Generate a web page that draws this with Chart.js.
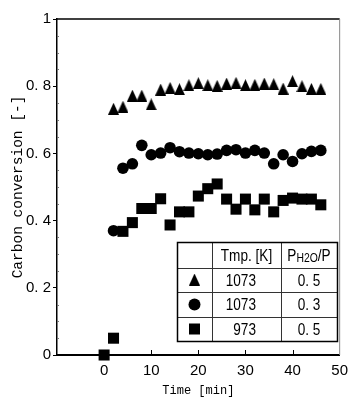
<!DOCTYPE html>
<html>
<head>
<meta charset="utf-8">
<script src="https://cdn.jsdelivr.net/npm/chart.js@4.4.1/dist/chart.umd.min.js"></script>
<style>
  html, body { margin: 0; padding: 0; background: #fff; }
  canvas { display: block; }
</style>
</head>
<body>
<canvas id="chart" width="355" height="401"></canvas>
<script>
// time [min] for the 1073 K runs, and for the 973 K run (starts at 0)
const times = [2, 4, 6, 8, 10, 12, 14, 16, 18, 20, 22, 24, 26, 28, 30, 32, 34, 36, 38, 40, 42, 44, 46];
const squareTimes = [0, 2, 4, 6, 8, 10, 12, 14, 16, 18, 20, 22, 24, 26, 28, 30, 32, 34, 36, 38, 40, 42, 44, 46];

// carbon conversion [-]
const triangleValues = [0.733, 0.739, 0.772, 0.772, 0.746, 0.790, 0.795, 0.791, 0.803, 0.809, 0.803,
  0.801, 0.808, 0.810, 0.803, 0.804, 0.808, 0.806, 0.793, 0.815, 0.800, 0.792, 0.792];
const circleValues = [0.370, 0.556, 0.569, 0.624, 0.596, 0.601, 0.617, 0.605, 0.601, 0.599, 0.596,
  0.598, 0.609, 0.611, 0.601, 0.609, 0.601, 0.569, 0.596, 0.576, 0.599, 0.606, 0.609];
const squareValues = [0.0, 0.05, 0.368, 0.394, 0.436, 0.436, 0.465, 0.387, 0.426, 0.426, 0.473, 0.495,
  0.509, 0.464, 0.434, 0.464, 0.432, 0.464, 0.426, 0.460, 0.467, 0.464, 0.464, 0.447];

const xTickValues = [0, 10, 20, 30, 40, 50];
const xTickLabels = ['0', '10', '20', '30', '40', '50'];
const yTickValues = [0, 0.2, 0.4, 0.6, 0.8, 1];
const yTickLabels = ['0', '0. 2', '0. 4', '0. 6', '0. 8', '1'];

// legend table
const legendHeader = ['Tmp. [K]', 'PH2O/P'];
const legendTemps = ['1073', '1073', '973'];
const legendRatios = ['0. 5', '0. 3', '0. 5'];

const SANS = "'Liberation Sans', Arial, sans-serif";
const MONO = "'Liberation Mono', 'DejaVu Sans Mono', monospace";

// tall narrow triangle marker
function makeTriangle(w, h) {
  const c = document.createElement('canvas');
  c.width = w;
  c.height = h;
  const g = c.getContext('2d');
  g.fillStyle = '#000';
  g.beginPath();
  g.moveTo(w / 2, 0);
  g.lineTo(w, h);
  g.lineTo(0, h);
  g.closePath();
  g.fill();
  return c;
}
const triangle = makeTriangle(11, 12);

// squeezed text, like the narrow font of the original table
function narrowText(ctx, text, x, y, size, align) {
  const squeeze = 0.8;
  ctx.save();
  ctx.font = size + 'px ' + SANS;
  const w = ctx.measureText(text).width * squeeze;
  let left = x;
  if (align === 'center') left = x - w / 2;
  if (align === 'right') left = x - w;
  ctx.translate(left, y);
  ctx.scale(squeeze, 1);
  ctx.textAlign = 'left';
  ctx.fillText(text, 0, 0);
  ctx.restore();
  return w;
}

const framePlugin = {
  id: 'frame',
  afterDraw(chart) {
    const ctx = chart.ctx;
    const area = chart.chartArea;
    const x = chart.scales.x;
    const y = chart.scales.y;
    ctx.save();

    // top and right edges of the plot box
    ctx.strokeStyle = '#000';
    ctx.lineWidth = 1.5;
    ctx.beginPath();
    ctx.moveTo(area.left, area.top);
    ctx.lineTo(area.right, area.top);
    ctx.stroke();
    ctx.strokeStyle = '#888';
    ctx.lineWidth = 1;
    ctx.beginPath();
    ctx.moveTo(area.right, area.top);
    ctx.lineTo(area.right, area.bottom);
    ctx.stroke();

    // inward ticks on the time axis
    ctx.strokeStyle = '#000';
    ctx.lineWidth = 1;
    xTickValues.slice(0, -1).forEach(v => {
      const px = Math.round(x.getPixelForValue(v)) + 0.5;
      ctx.beginPath();
      ctx.moveTo(px, area.bottom);
      ctx.lineTo(px, area.bottom - 5);
      ctx.stroke();
    });

    // minor ticks on the conversion axis
    ctx.strokeStyle = '#777';
    for (let i = 1; i < 20; i++) {
      if (i % 4 === 0) continue;
      const py = Math.round(y.getPixelForValue(i * 0.05)) + 0.5;
      ctx.beginPath();
      ctx.moveTo(area.left, py);
      ctx.lineTo(area.left + 2, py);
      ctx.stroke();
    }

    // legend table
    const cols = [177, 212, 281, 337];
    const rows = [242, 268, 292, 317, 341];
    ctx.fillStyle = '#fff';
    ctx.fillRect(cols[0], rows[0], cols[3] - cols[0], rows[4] - rows[0]);
    ctx.strokeStyle = '#333';
    ctx.lineWidth = 1;
    cols.slice(1, -1).forEach(c => {
      ctx.beginPath();
      ctx.moveTo(c + 0.5, rows[0]);
      ctx.lineTo(c + 0.5, rows[4]);
      ctx.stroke();
    });
    rows.slice(1, -1).forEach(r => {
      ctx.beginPath();
      ctx.moveTo(cols[0], r + 0.5);
      ctx.lineTo(cols[3], r + 0.5);
      ctx.stroke();
    });
    ctx.strokeStyle = '#000';
    ctx.lineWidth = 1.5;
    ctx.strokeRect(cols[0] + 0.5, rows[0] + 0.5, cols[3] - cols[0], rows[4] - rows[0]);

    ctx.fillStyle = '#000';
    ctx.textBaseline = 'middle';
    const hy = (rows[0] + rows[1]) / 2 + 1;
    narrowText(ctx, legendHeader[0], (cols[1] + cols[2]) / 2, hy, 17, 'center');

    // P with small H2O, then /P
    ctx.font = '17px ' + SANS;
    const wP = ctx.measureText('P').width * 0.8;
    const wTail = ctx.measureText('/P').width * 0.8;
    ctx.font = '13px ' + SANS;
    const wSub = ctx.measureText('H2O').width * 0.8;
    let sx = (cols[2] + cols[3]) / 2 - (wP + wSub + wTail) / 2;
    sx += narrowText(ctx, 'P', sx, hy, 17, 'left');
    sx += narrowText(ctx, 'H2O', sx, hy + 2, 13, 'left');
    narrowText(ctx, '/P', sx, hy, 17, 'left');

    const symX = (cols[0] + cols[1]) / 2;
    for (let i = 0; i < 3; i++) {
      const cy = (rows[i + 1] + rows[i + 2]) / 2;
      if (i === 0) {
        ctx.drawImage(triangle, symX - 5.5, cy - 6.5);
      } else if (i === 1) {
        ctx.beginPath();
        ctx.arc(symX, cy, 6, 0, Math.PI * 2);
        ctx.fill();
      } else {
        ctx.fillRect(symX - 5.5, cy - 5.5, 11, 11);
      }
      narrowText(ctx, legendTemps[i], 256, cy + 1, 17, 'right');
      narrowText(ctx, legendRatios[i], (cols[2] + cols[3]) / 2, cy + 1, 17, 'center');
    }
    ctx.restore();
  }
};

new Chart(document.getElementById('chart'), {
  type: 'scatter',
  data: {
    datasets: [
      {
        label: '1073 K, 0.5',
        data: times.map((t, i) => ({ x: t, y: triangleValues[i] })),
        pointStyle: triangle,
        backgroundColor: '#000',
        borderWidth: 0,
        clip: false
      },
      {
        label: '1073 K, 0.3',
        data: times.map((t, i) => ({ x: t, y: circleValues[i] })),
        pointStyle: 'circle',
        pointRadius: 5.8,
        backgroundColor: '#000',
        borderWidth: 0,
        clip: false
      },
      {
        label: '973 K, 0.5',
        data: squareTimes.map((t, i) => ({ x: t, y: squareValues[i] })),
        pointStyle: 'rect',
        pointRadius: 7.8,
        backgroundColor: '#000',
        borderWidth: 0,
        clip: false
      }
    ]
  },
  options: {
    responsive: false,
    animation: false,
    devicePixelRatio: 1,
    layout: { padding: { top: 19, right: 9, left: 0, bottom: 0 } },
    plugins: {
      legend: { display: false },
      tooltip: { enabled: false }
    },
    scales: {
      x: {
        type: 'linear',
        min: -10,
        max: 50,
        afterBuildTicks: s => { s.ticks = xTickValues.map(v => ({ value: v })); },
        afterFit: s => { s.height = 46; },
        ticks: {
          color: '#000',
          padding: 7,
          maxRotation: 0,
          font: { family: SANS, size: 15 },
          callback: (v, i) => xTickLabels[i]
        },
        grid: { drawOnChartArea: false, drawTicks: false },
        border: { color: '#000', width: 2 },
        title: {
          display: true,
          text: 'Time [min]',
          color: '#000',
          font: { family: MONO, size: 12 },
          padding: { top: 0, bottom: 3 }
        }
      },
      y: {
        min: 0,
        max: 1,
        afterBuildTicks: s => { s.ticks = yTickValues.map(v => ({ value: v })); },
        afterFit: s => { s.width = 57; },
        ticks: {
          color: '#000',
          padding: 2,
          font: { family: SANS, size: 15 },
          callback: (v, i) => yTickLabels[i]
        },
        grid: { drawOnChartArea: false, drawTicks: true, tickLength: 4, color: '#000' },
        border: { color: '#000', width: 1.5 },
        title: {
          display: true,
          text: 'Carbon conversion [-]',
          color: '#000',
          font: { family: MONO, size: 14.5 },
          padding: { top: 9, bottom: 0 }
        }
      }
    }
  },
  plugins: [framePlugin]
});
</script>
</body>
</html>
